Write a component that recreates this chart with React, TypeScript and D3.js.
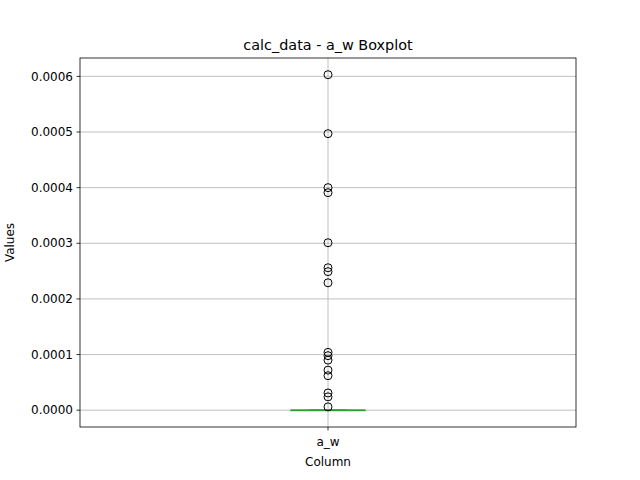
import React from "react";
import * as d3 from "d3";

const category = "a_w";
const yTicks = [0, 0.0001, 0.0002, 0.0003, 0.0004, 0.0005, 0.0006];
const boxStats = { q1: 0, median: 0, q3: 0, low: 0, high: 0 };
const outliers = [
  0.000603, 0.000497, 0.0004, 0.000391, 0.000301, 0.000256, 0.000249, 0.000229,
  0.000104, 0.000098, 0.00009, 0.000072, 0.000062, 0.000031, 0.000024, 0.000006,
];

const App = () => {
  const width = 640;
  const height = 480;
  const left = 80, right = 576, top = 58, bottom = 427;
  const y = d3.scaleLinear().domain([-0.0000302, 0.000633]).range([bottom, top]);
  const x = d3.scaleBand().domain([category]).range([left, right]);
  const cx = (x(category) as number) + x.bandwidth() / 2;
  const halfW = x.bandwidth() * 0.075;
  const font = "DejaVu Sans";

  return (
    <svg width={width} height={height} style={{ position: "absolute", left: 0, top: 0 }} fontFamily={font}>
      <rect width={width} height={height} fill="white" />
      {yTicks.map((t) => (
        <g key={t}>
          <line x1={left} x2={right} y1={y(t)} y2={y(t)} stroke="#b0b0b0" strokeWidth={0.8} />
          <line x1={left - 3.5} x2={left} y1={y(t)} y2={y(t)} stroke="black" strokeWidth={0.8} />
          <text x={left - 7} y={y(t)} dy="0.35em" textAnchor="end" fontSize={12}>
            {t.toFixed(4)}
          </text>
        </g>
      ))}
      <line x1={cx} x2={cx} y1={top} y2={bottom} stroke="#b0b0b0" strokeWidth={0.8} />
      <line x1={cx} x2={cx} y1={bottom} y2={bottom + 3.5} stroke="black" strokeWidth={0.8} />
      <text x={cx} y={bottom + 19} textAnchor="middle" fontSize={12}>{category}</text>
      {/* box */}
      <rect x={cx - halfW} width={halfW * 2} y={y(boxStats.q3)} height={Math.max(0.5, y(boxStats.q1) - y(boxStats.q3))} fill="none" stroke="#1f77b4" />
      <line x1={cx - halfW / 2} x2={cx + halfW / 2} y1={y(boxStats.low)} y2={y(boxStats.low)} stroke="#1f77b4" />
      <line x1={cx - halfW / 2} x2={cx + halfW / 2} y1={y(boxStats.high)} y2={y(boxStats.high)} stroke="#1f77b4" />
      <line x1={cx - halfW} x2={cx + halfW} y1={y(boxStats.median)} y2={y(boxStats.median)} stroke="#2ca02c" strokeWidth={1.5} />
      {outliers.map((v, i) => (
        <circle key={i} cx={cx} cy={y(v)} r={4} fill="none" stroke="black" strokeWidth={1} />
      ))}
      <rect x={left} y={top} width={right - left} height={bottom - top} fill="none" stroke="black" strokeWidth={0.8} />
      <text x={(left + right) / 2} y={top - 8} textAnchor="middle" fontSize={14.4}>calc_data - a_w Boxplot</text>
      <text x={(left + right) / 2} y={466} textAnchor="middle" fontSize={12}>Column</text>
      <text transform={`translate(14,${(top + bottom) / 2}) rotate(-90)`} textAnchor="middle" fontSize={12}>Values</text>
    </svg>
  );
};

export default App;
